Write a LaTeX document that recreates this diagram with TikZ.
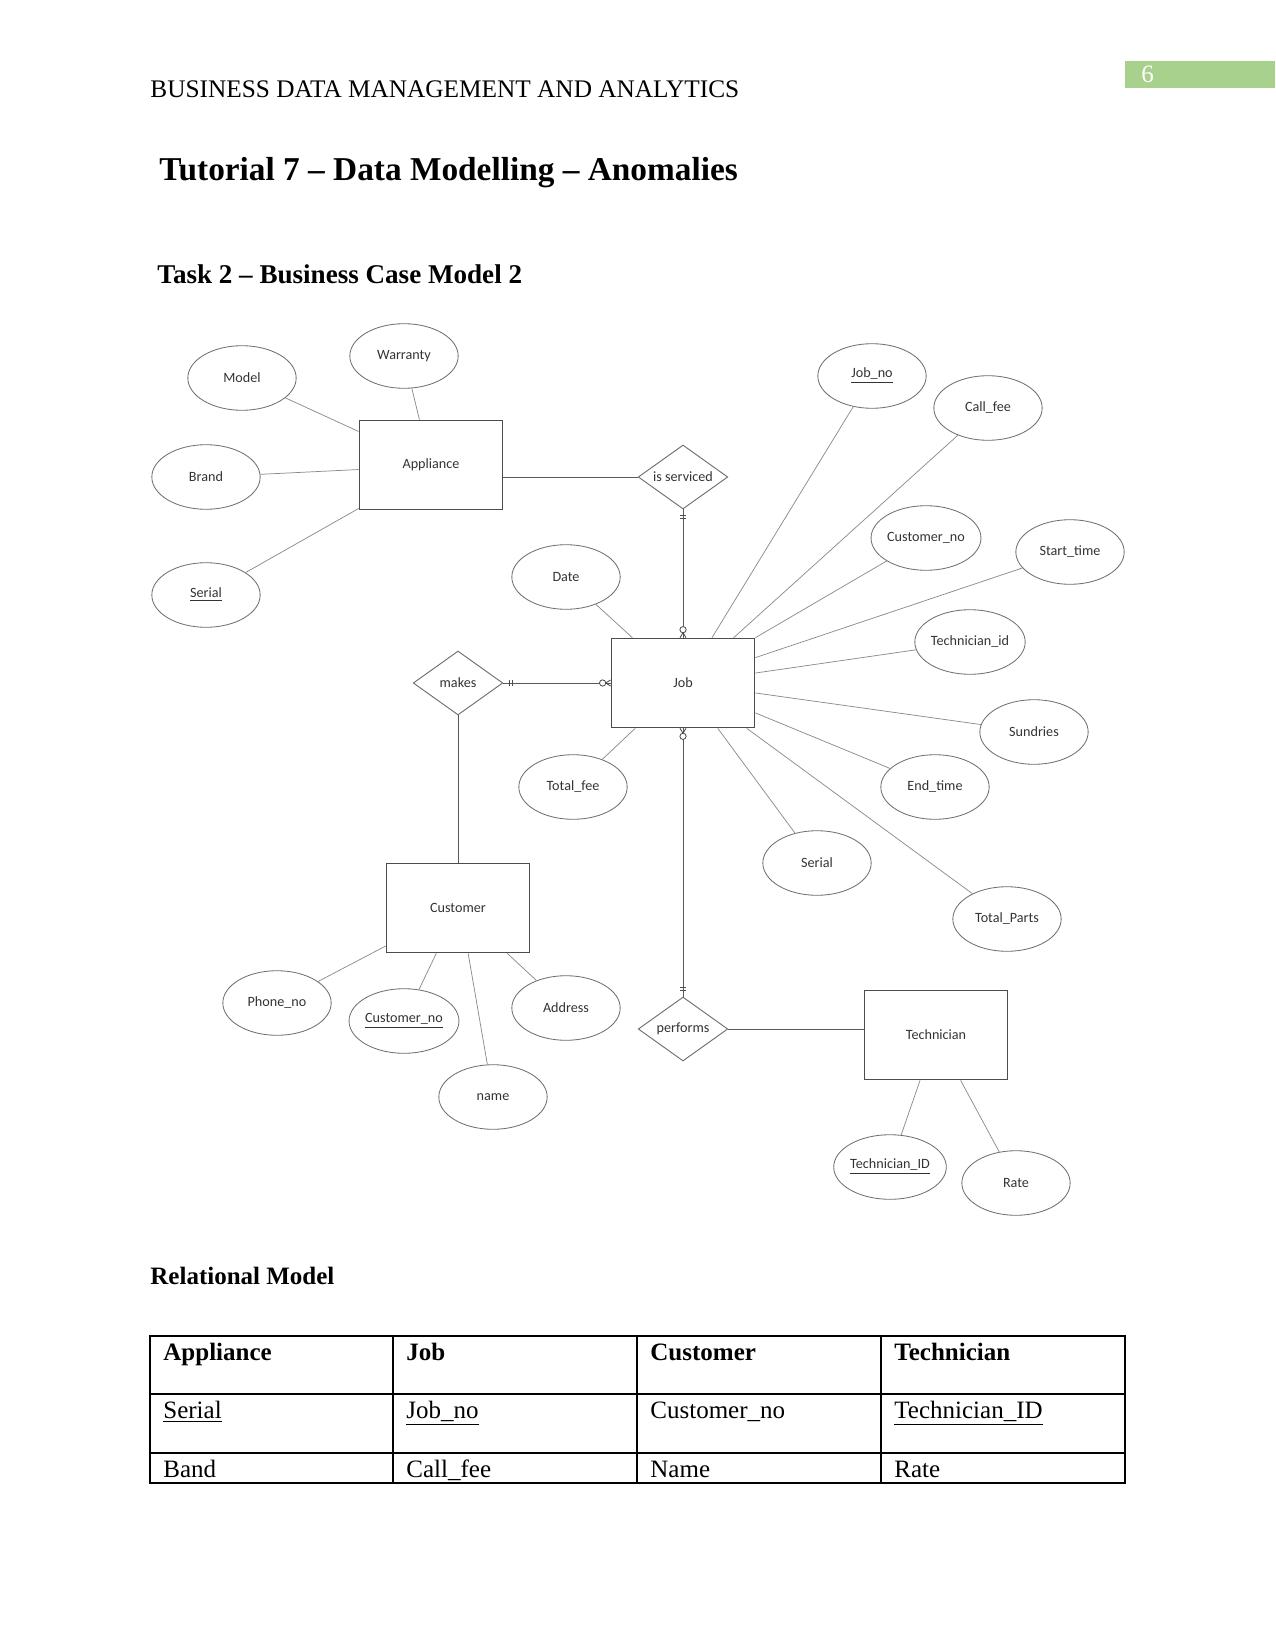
\documentclass[tikz,border=0pt]{standalone}
\usepackage{fontspec}
\setmainfont{Liberation Serif}
\newfontfamily\erfont{Carlito}
\usetikzlibrary{shapes.geometric,calc}
\definecolor{pagegreen}{HTML}{A9D18E}
\definecolor{edgegray}{HTML}{6E6E6E}
\definecolor{linegray}{HTML}{8A8A8A}
\definecolor{ertext}{HTML}{333333}
\begin{document}
\begin{tikzpicture}[x=0.48pt,y=-0.48pt,
  erfontsty/.style={font=\erfont\fontsize{6.8}{8}\selectfont,text=ertext},
  attr/.style={ellipse,draw=edgegray,line width=0.4pt,minimum width=52pt,minimum height=31pt,inner sep=0pt,erfontsty},
  ent/.style={rectangle,draw=black!70,line width=0.5pt,minimum width=69pt,minimum height=43pt,inner sep=0pt,erfontsty},
  rel/.style={diamond,draw=edgegray,line width=0.45pt,aspect=1.4,minimum width=43pt,minimum height=30.7pt,inner sep=0pt,erfontsty},
  lnk/.style={draw=linegray,line width=0.35pt},
  conn/.style={draw=black!65,line width=0.45pt},
  cardmark/.style={draw=black!70,line width=0.4pt},
  txt/.style={inner sep=0pt,font=\fontsize{12}{14}\selectfont},
  btxt/.style={inner sep=0pt,font=\bfseries\fontsize{12}{14}\selectfont},
  tablegrid/.style={draw=black,line width=0.6pt}]
\useasboundingbox (0,0) rectangle (1275,1650);

% page header
\fill[pagegreen] (1125,61) rectangle (1275,88);
\node[txt,anchor=west,text=white] (pgno) at (1141,74) {6};
\node[inner sep=0pt,anchor=west,font=\fontsize{12.15}{14}\selectfont] (hdr) at (150,89) {BUSINESS DATA MANAGEMENT AND ANALYTICS};
\node[inner sep=0pt,anchor=base west,font=\bfseries\fontsize{16}{19}\selectfont] (title) at (159,181) {Tutorial 7 – Data Modelling – Anomalies};
\node[inner sep=0pt,anchor=base west,font=\bfseries\fontsize{13}{15}\selectfont] (task) at (157,284) {Task 2 – Business Case Model 2};

% entities
\node[ent,minimum width=69pt] (app) at (431,465) {Appliance};
\node[ent] (job) at (683,683) {Job};
\node[ent] (cust) at (458,908) {Customer};
\node[ent] (tech) at (936,1035) {Technician};

% relationships
\node[rel] (serv) at (683,477) {is serviced};
\node[rel] (makes) at (458,683) {makes};
\node[rel] (perf) at (683,1029) {performs};

% appliance attributes
\node[attr] (model) at (242,378) {Model};
\node[attr] (warranty) at (404,356) {Warranty};
\node[attr] (brand) at (206,477) {Brand};
\node[attr] (serialA) at (206,595) {\underline{Serial}};

% job attributes
\node[attr] (jobno) at (872,376) {\underline{Job\_no}};
\node[attr] (callfee) at (988,408) {Call\_fee};
\node[attr] (custnoJ) at (926,538) {Customer\_no};
\node[attr] (start) at (1070,552) {Start\_time};
\node[attr] (date) at (566,577) {Date};
\node[attr] (techid) at (970,642) {Technician\_id};
\node[attr] (sund) at (1034,732) {Sundries};
\node[attr] (totfee) at (573,787) {Total\_fee};
\node[attr] (endt) at (935,787) {End\_time};
\node[attr] (serialJ) at (817,863) {Serial};
\node[attr] (totparts) at (1007,919) {Total\_Parts};

% customer attributes
\node[attr] (phone) at (277,1003) {Phone\_no};
\node[attr] (custno) at (404,1021) {\underline{Customer\_no}};
\node[attr] (addr) at (566,1008) {Address};
\node[attr] (name) at (493,1097) {name};

% technician attributes
\node[attr] (techID) at (890,1167) {\underline{Technician\_ID}};
\node[attr] (rate) at (1016,1183) {Rate};

% attribute links
\draw[lnk] (model) -- ($(app.north west)!0.13!(app.south west)$);
\draw[lnk] (warranty) -- ($(app.north west)!0.42!(app.north east)$);
\draw[lnk] (brand) -- ($(app.north west)!0.55!(app.south west)$);
\draw[lnk] (serialA) -- ($(app.north west)!0.98!(app.south west)$);

\draw[lnk] (date) -- ($(job.north west)!0.15!(job.north east)$);
\draw[lnk] (jobno) -- ($(job.north west)!0.70!(job.north east)$);
\draw[lnk] (callfee) -- ($(job.north west)!0.85!(job.north east)$);
\draw[lnk] (custnoJ) -- (job.north east);
\draw[lnk] (start) -- ($(job.north east)!0.22!(job.south east)$);
\draw[lnk] (techid) -- ($(job.north east)!0.39!(job.south east)$);
\draw[lnk] (sund) -- ($(job.north east)!0.61!(job.south east)$);
\draw[lnk] (endt) -- ($(job.north east)!0.83!(job.south east)$);
\draw[lnk] (totfee) -- ($(job.south west)!0.17!(job.south east)$);
\draw[lnk] (serialJ) -- ($(job.south west)!0.74!(job.south east)$);
\draw[lnk] (totparts) -- ($(job.south west)!0.94!(job.south east)$);

\draw[lnk] (phone) -- ($(cust.north west)!0.92!(cust.south west)$);
\draw[lnk] (custno) -- ($(cust.south west)!0.35!(cust.south east)$);
\draw[lnk] (name) -- ($(cust.south west)!0.57!(cust.south east)$);
\draw[lnk] (addr) -- ($(cust.south west)!0.84!(cust.south east)$);

\draw[lnk] (techID) -- ($(tech.south west)!0.39!(tech.south east)$);
\draw[lnk] (rate) -- ($(tech.south west)!0.67!(tech.south east)$);

% relationship connectors
\draw[conn] (app.east |- serv.west) -- (serv.west);
\draw[conn] (serv.south) -- (job.north);
\draw[conn] (makes.east) -- (job.west);
\draw[conn] (makes.south) -- (cust.north);
\draw[conn] (job.south) -- (perf.north);
\draw[conn] (perf.east) -- (tech.west |- perf.east);

% cardinality marks: is serviced -- job
\draw[cardmark] ($(serv.south)+(-3,6)$) -- ++(6,0);
\draw[cardmark] ($(serv.south)+(-3,9)$) -- ++(6,0);
\draw[cardmark] ($(job.north)+(0,-5)$) -- ($(job.north)+(-3,0)$);
\draw[cardmark] ($(job.north)+(0,-5)$) -- ($(job.north)+(3,0)$);
\draw[cardmark,fill=white] ($(job.north)+(0,-8)$) circle[radius=1.5pt];

% makes -- job
\draw[cardmark] ($(makes.east)+(6,-3)$) -- ++(0,6);
\draw[cardmark] ($(makes.east)+(9,-3)$) -- ++(0,6);
\draw[cardmark] ($(job.west)+(-5,0)$) -- ($(job.west)+(0,-3)$);
\draw[cardmark] ($(job.west)+(-5,0)$) -- ($(job.west)+(0,3)$);
\draw[cardmark,fill=white] ($(job.west)+(-8,0)$) circle[radius=1.5pt];

% job -- performs
\draw[cardmark] ($(job.south)+(0,5)$) -- ($(job.south)+(-3,0)$);
\draw[cardmark] ($(job.south)+(0,5)$) -- ($(job.south)+(3,0)$);
\draw[cardmark,fill=white] ($(job.south)+(0,8)$) circle[radius=1.5pt];
\draw[cardmark] ($(perf.north)+(-3,-9)$) -- ++(6,0);
\draw[cardmark] ($(perf.north)+(-3,-6)$) -- ++(6,0);

% relational model
\node[btxt,anchor=base west] (relhdr) at (150,1284) {Relational Model};
\draw[tablegrid] (150,1336) rectangle (1125,1483);
\draw[tablegrid] (150,1394) -- (1125,1394);
\draw[tablegrid] (150,1453) -- (1125,1453);
\draw[tablegrid] (393,1336) -- (393,1483);
\draw[tablegrid] (637,1336) -- (637,1483);
\draw[tablegrid] (881,1336) -- (881,1483);

\node[btxt,anchor=base west] (h1) at (163,1360) {Appliance};
\node[btxt,anchor=base west] (h2) at (406,1360) {Job};
\node[btxt,anchor=base west] (h3) at (650,1360) {Customer};
\node[btxt,anchor=base west] (h4) at (894,1360) {Technician};

\node[txt,anchor=base west] (r1) at (163,1418) {\underline{Serial}};
\node[txt,anchor=base west] (r2) at (406,1418) {\underline{Job\_no}};
\node[txt,anchor=base west] (r3) at (650,1418) {Customer\_no};
\node[txt,anchor=base west] (r4) at (894,1418) {\underline{Technician\_ID}};

\node[txt,anchor=base west] (s1) at (163,1477) {Band};
\node[txt,anchor=base west] (s2) at (406,1477) {Call\_fee};
\node[txt,anchor=base west] (s3) at (650,1477) {Name};
\node[txt,anchor=base west] (s4) at (894,1477) {Rate};
\end{tikzpicture}
\end{document}
